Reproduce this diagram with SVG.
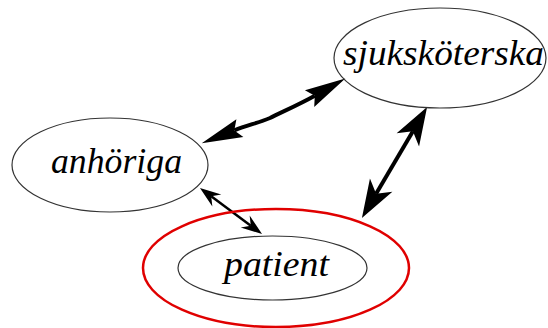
<svg xmlns="http://www.w3.org/2000/svg" width="548" height="328" viewBox="0 0 548 328">
  <style>
    .node { fill: none; stroke: #333; stroke-width: 1.2; }
    .focus { fill: none; stroke: #e00000; stroke-width: 2.5; }
    .label { font-family: "Liberation Serif", "DejaVu Serif", serif; font-style: italic; font-size: 35px; fill: #000; text-anchor: middle; }
    .edge { fill: none; stroke: #000; }
  </style>
  <defs>
    <marker id="barb" viewBox="-42 -12 43 24" refX="-35" refY="0" markerWidth="43" markerHeight="24" markerUnits="userSpaceOnUse" orient="auto-start-reverse">
      <path d="M0,0 L-41,-9.5 L-35,0 L-41,9.5 Z" fill="#000"/>
    </marker>
    <marker id="veeBig" viewBox="-40 -14 41 28" refX="-28" refY="0" markerWidth="41" markerHeight="28" markerUnits="userSpaceOnUse" orient="auto-start-reverse">
      <path d="M0,0 L-38,-13 L-28,0 L-38,13 Z" fill="#000"/>
    </marker>
    <marker id="veeSmall" viewBox="-22 -9 23 18" refX="-14" refY="0" markerWidth="23" markerHeight="18" markerUnits="userSpaceOnUse" orient="auto-start-reverse">
      <path d="M0,0 L-21,-7.5 L-14,0 L-21,7.5 Z" fill="#000"/>
    </marker>
  </defs>

  <g id="edges">
    <path class="edge" stroke-width="4" d="M234.3,130.4 C248,125 258,123 270,118 C282,112 300,104 314.8,95.7" marker-start="url(#barb)" marker-end="url(#barb)"/>
    <path class="edge" stroke-width="4" d="M376.1,193.8 L412.9,131.2" marker-start="url(#veeBig)" marker-end="url(#veeBig)"/>
    <path class="edge" stroke-width="2.5" d="M211.2,196.3 L250.8,225.7" marker-start="url(#veeSmall)" marker-end="url(#veeSmall)"/>
  </g>

  <g id="sjukskoterska">
    <ellipse class="node" cx="440" cy="58" rx="106" ry="50"/>
    <text class="label" x="443.5" y="65" textLength="201" lengthAdjust="spacingAndGlyphs">sjuksköterska</text>
  </g>

  <g id="anhoriga">
    <ellipse class="node" cx="110" cy="165" rx="98" ry="47"/>
    <text class="label" x="116.5" y="173" textLength="131" lengthAdjust="spacingAndGlyphs">anhöriga</text>
  </g>

  <g id="patient">
    <ellipse class="focus" cx="276" cy="268" rx="133" ry="59"/>
    <ellipse class="node" cx="272.5" cy="268" rx="94.5" ry="32"/>
    <text class="label" x="276.5" y="276" textLength="105" lengthAdjust="spacingAndGlyphs">patient</text>
  </g>
</svg>
